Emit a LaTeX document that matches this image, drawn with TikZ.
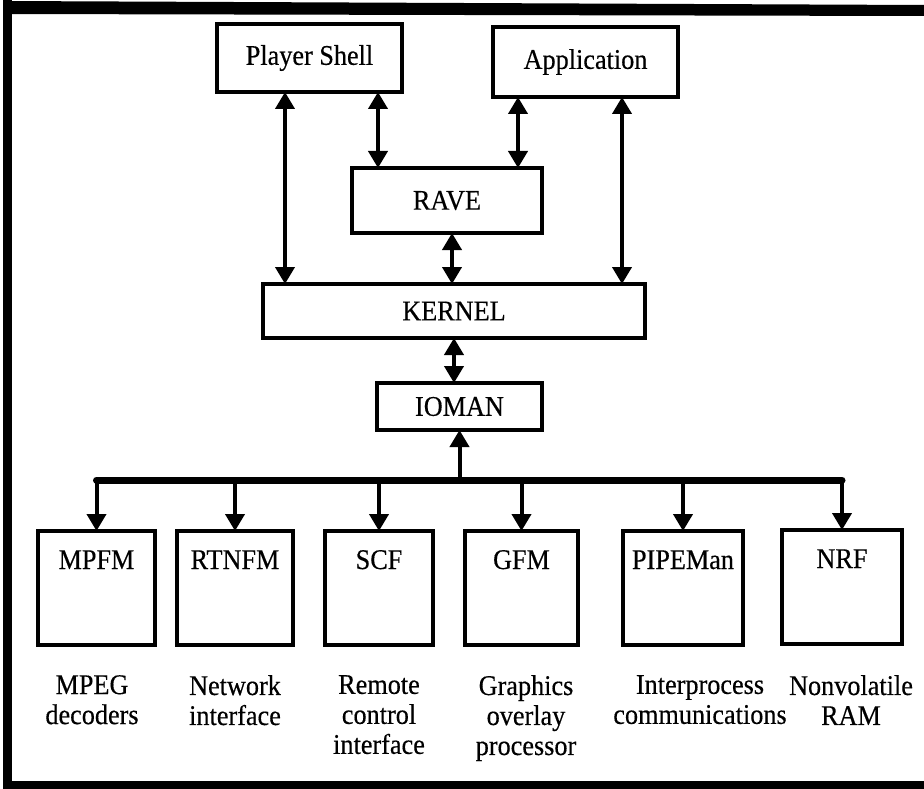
\documentclass[tikz,border=0pt]{standalone}
\usepackage{fontspec}
\setmainfont{Liberation Serif}[FakeStretch=0.92,FakeBold=0.4]
\usetikzlibrary{arrows.meta}
\begin{document}
\begin{tikzpicture}[x=1pt,y=-1pt,
  box/.style={draw, line width=4.5pt, inner sep=0pt, outer sep=0pt, font=\fontsize{28.5}{30}\selectfont},
  modbox/.style={box, anchor=north, text height=38pt, text depth=76pt},
  dbl/.style={line width=4pt, {Triangle[width=19pt,length=17pt]}-{Triangle[width=19pt,length=17pt]}},
  sgl/.style={line width=4pt, -{Triangle[width=19pt,length=17pt]}},
  bus/.style={line width=7pt, line cap=round, line join=round},
  desc/.style={anchor=north, align=center, inner sep=0pt, font=\fontsize{28.5}{30}\selectfont}]
\useasboundingbox (0,0) rectangle (924,789);
% frame
\fill (3,0) rectangle (12,789);
\fill (3,1) -- (924,5) -- (924,16) -- (3,14) -- cycle;
\fill (3,781) rectangle (924,789);
% upper boxes
\node[box, minimum width=185pt, minimum height=68pt] (ps) at (309.5,58) {Player Shell};
\node[box, minimum width=185pt, minimum height=70pt] (app) at (585.5,62) {Application};
\node[box, minimum width=190pt, minimum height=65pt] (rave) at (447,200.5) {RAVE};
\node[box, minimum width=382pt, minimum height=54pt] (kernel) at (454,311) {KERNEL};
\node[box, minimum width=165pt, minimum height=47pt] (ioman) at (459.5,406.5) {IOMAN};
% module boxes
\node[modbox, minimum width=117pt] (mpfm) at (96.5,531) {MPFM};
\node[modbox, minimum width=116pt] (rtnfm) at (235,531) {RTNFM};
\node[modbox, minimum width=108pt] (scf) at (379,531) {SCF};
\node[modbox, minimum width=113pt] (gfm) at (521.5,531) {GFM};
\node[modbox, minimum width=120pt] (pipe) at (683,531) {PIPEMan};
\node[modbox, minimum width=120pt] (nrf) at (842,530) {NRF};
% arrow columns
\coordinate (x1) at (285,0);
\coordinate (x2) at (378,0);
\coordinate (x3) at (518,0);
\coordinate (x4) at (622,0);
\coordinate (x5) at (452,0);
\coordinate (busy) at (0,480);
\draw[dbl] (ps.south -| x1) -- (kernel.north -| x1);
\draw[dbl] (ps.south -| x2) -- (rave.north -| x2);
\draw[dbl] (app.south -| x3) -- (rave.north -| x3);
\draw[dbl] (app.south -| x4) -- (kernel.north -| x4);
\draw[dbl] (rave.south -| x5) -- (kernel.north -| x5);
\draw[dbl] (kernel.south) -- (kernel.south |- ioman.north);
% bus
\draw[bus] (mpfm.north |- busy) -- (nrf.north |- busy);
\draw[sgl] (ioman.south |- busy) -- (ioman.south);
\foreach \n in {mpfm,rtnfm,scf,gfm,pipe,nrf}
  \draw[sgl] (\n.north |- busy) -- (\n.north);
% descriptions
\node[desc] (l1) at (92,675) {MPEG\\decoders};
\node[desc] (l2) at (235,675) {Network\\interface};
\node[desc] (l3) at (379,675) {Remote\\control\\interface};
\node[desc] (l4) at (526,675) {Graphics\\overlay\\processor};
\node[desc] (l5) at (700,675) {Interprocess\\communications};
\node[desc] (l6) at (851,675) {Nonvolatile\\RAM};
\end{tikzpicture}
\end{document}
